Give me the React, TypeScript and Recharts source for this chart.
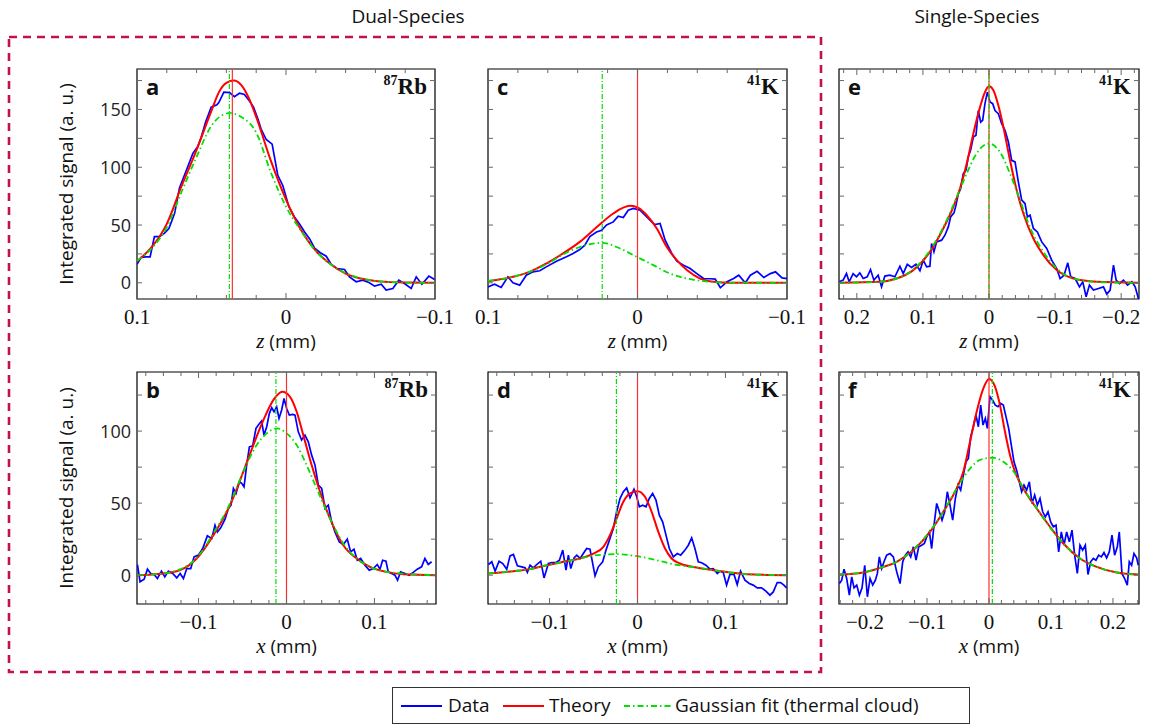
import React from 'react';
import { LineChart, Line, XAxis, YAxis, ReferenceLine, ReferenceArea } from 'recharts';

type Pt = [number, number];

// ---- panel a: 87Rb, z, dual species ----
const aData: Pt[] = [
  [0.100, 16], [0.0972, 22], [0.0939, 22.5], [0.0912, 22.5], [0.0883, 40], [0.0849, 40], [0.0815, 43], [0.0786, 47],
  [0.0748, 60], [0.0715, 82], [0.067, 97], [0.0625, 112], [0.0592, 118], [0.0569, 126], [0.054, 139], [0.0502, 152],
  [0.0464, 154], [0.0451, 156], [0.0417, 165], [0.0379, 164.6], [0.0346, 161], [0.0312, 164], [0.0279, 163], [0.0249, 158],
  [0.0218, 152], [0.0189, 142], [0.0167, 133], [0.0133, 124], [0.0093, 120], [0.0055, 93], [0.0021, 84], [-0.0019, 66],
  [-0.0057, 57], [-0.0091, 51], [-0.0125, 44], [-0.0159, 38], [-0.0192, 30], [-0.023, 26], [-0.027, 23], [-0.0304, 16],
  [-0.0341, 12.4], [-0.0393, 11.5], [-0.0426, 5.2], [-0.0471, 0.9], [-0.0516, 2.3], [-0.056, 0], [-0.0594, -2.9],
  [-0.0639, -1.2], [-0.0672, -6.3], [-0.0717, -4.9], [-0.0757, 2.3], [-0.0795, -0.6], [-0.084, -4.9], [-0.0874, 5.2],
  [-0.0912, -1.2], [-0.0959, 5.8], [-0.0997, 2.9],
];
const aTheory: Pt[] = [
  [0.1, 18.7], [0.09, 31], [0.08, 51], [0.07, 84], [0.06, 115], [0.05, 149], [0.045, 165], [0.04, 173], [0.035, 175],
  [0.03, 171], [0.025, 160], [0.02, 143.5], [0.01, 105], [0, 72], [-0.01, 46], [-0.02, 27.7], [-0.03, 16], [-0.04, 8],
  [-0.05, 3.7], [-0.06, 1.5], [-0.07, 0.6], [-0.08, 0.2], [-0.1, 0],
];
const aFit: Pt[] = [
  [0.1, 19], [0.09, 30], [0.08, 48], [0.07, 79], [0.06, 109], [0.05, 136], [0.04, 146.5], [0.038, 147], [0.03, 143.5],
  [0.02, 130], [0.01, 95], [0, 66], [-0.01, 45], [-0.02, 27.5], [-0.03, 16], [-0.04, 8.5], [-0.05, 4], [-0.06, 1.6],
  [-0.07, 0.6], [-0.08, 0.2], [-0.1, 0],
];

// ---- panel c: 41K, z, dual species ----
const cData: Pt[] = [
  [0.1001, -3.5], [0.0956, -1.2], [0.0912, -4], [0.0867, 5.2], [0.0833, 0], [0.0788, -2], [0.0744, 6.6], [0.0699, 9.5],
  [0.0654, 10.4], [0.061, 13.8], [0.0542, 18.7], [0.0475, 22.5], [0.0431, 25.4], [0.0386, 28.8], [0.0352, 32.6],
  [0.0319, 40], [0.0274, 44], [0.024, 45.5], [0.0207, 50], [0.0162, 52.7], [0.0129, 57.6], [0.0095, 56.5], [0.0062, 62.8],
  [0.0028, 64.3], [-0.0017, 62.8], [-0.0062, 57], [-0.0095, 52.7], [-0.0117, 50.4], [-0.0151, 51.3], [-0.0185, 36.9],
  [-0.0229, 25.4], [-0.0263, 18.7], [-0.0308, 15.3], [-0.0352, 12.4], [-0.0397, 8], [-0.0442, 3.7], [-0.0487, 3.5],
  [-0.052, 3.2], [-0.0554, -4.3], [-0.0598, 0.9], [-0.0643, 3.7], [-0.0677, 6.6], [-0.0721, 0], [-0.0755, 6.6],
  [-0.08, 10], [-0.0845, 4.6], [-0.0889, 8], [-0.0923, 9.5], [-0.0967, 4.3], [-0.1001, 3.7],
];
const cTheory: Pt[] = [
  [0.1, 1.4], [0.0833, 5.2], [0.0721, 9.5], [0.061, 16.7], [0.0498, 25.4], [0.0386, 35.4], [0.0274, 48], [0.0162, 60],
  [0.005, 66.6], [-0.0006, 64.8], [-0.0062, 58.5], [-0.0129, 47], [-0.0196, 31], [-0.0263, 19.6], [-0.033, 11],
  [-0.0419, 3.7], [-0.0509, 0.9], [-0.0621, 0], [-0.1, 0],
];
const cFit: Pt[] = [
  [0.1, 1.7], [0.0833, 5.2], [0.0721, 9.5], [0.061, 16], [0.0498, 24.5], [0.0386, 31], [0.0236, 34.6], [0.0117, 29.7],
  [0.0006, 22.5], [-0.0106, 15.3], [-0.0218, 8], [-0.033, 3.7], [-0.0442, 1.4], [-0.0554, 0.3], [-0.1, 0],
];

// ---- panel e: 41K, z, single species ----
const eData: Pt[] = [
  [0.2268, 0.9], [0.2207, 2.3], [0.2157, 8], [0.2116, 0.9], [0.2056, 8], [0.2005, 5.2], [0.1955, 8.6], [0.1904, 3.7],
  [0.1843, 5.2], [0.1793, 11.5], [0.1742, 2.3], [0.1677, 6.6], [0.1626, -3.5], [0.1576, 5.8], [0.15, 6.6], [0.1424, 5.2],
  [0.1348, 14.4], [0.1298, 8], [0.1237, 16], [0.1172, 13.3], [0.1106, 16], [0.1045, 10.4], [0.0995, 19.6], [0.0944, 13.8],
  [0.0894, 14.4], [0.0869, 34], [0.0833, 26.8], [0.0793, 35.4], [0.0717, 36.9], [0.0667, 41.2], [0.0616, 48.4],
  [0.0581, 57], [0.053, 60.5], [0.05, 67], [0.0465, 77], [0.0429, 81.6], [0.0389, 94.5], [0.0348, 97.4], [0.0313, 109],
  [0.0278, 115], [0.0237, 126], [0.0197, 127.7], [0.0162, 149], [0.0126, 139], [0.0096, 140.6], [0.0061, 155],
  [0.0025, 165], [-0.0015, 156.5], [-0.0056, 155], [-0.0091, 149], [-0.0141, 146.4], [-0.0192, 137.8], [-0.0242, 132],
  [-0.0293, 122], [-0.0343, 106], [-0.0394, 104.6], [-0.0444, 87.3], [-0.0495, 71.5], [-0.0545, 68.6], [-0.0581, 57],
  [-0.0621, 58.5], [-0.0672, 47], [-0.0732, 44], [-0.0798, 35.4], [-0.0874, 29.7], [-0.0949, 19.6], [-0.1025, 12.4],
  [-0.1076, 3.7], [-0.1136, 6.6], [-0.1192, 17.3], [-0.1237, 5.2], [-0.1303, 3.7], [-0.1369, -3.5], [-0.1419, 0.9],
  [-0.147, -12], [-0.152, -2], [-0.1581, -6.3], [-0.1657, -4.9], [-0.1732, -3.5], [-0.1783, -9.8], [-0.1833, -6.3],
  [-0.1884, 15.3], [-0.1924, 2.3], [-0.1975, -0.6], [-0.2035, 2.3], [-0.2096, -2], [-0.2162, 0.9], [-0.2212, -3.5],
  [-0.2263, -14],
];
const eTheory: Pt[] = [
  [0.2268, 0], [0.1652, 0.9], [0.1399, 3.7], [0.1146, 11], [0.0894, 26.8], [0.0692, 47], [0.054, 65.7], [0.0439, 81.6],
  [0.0338, 103], [0.0237, 129], [0.0136, 152], [0.0061, 165], [0, 170], [-0.0066, 166.6], [-0.0141, 153.6],
  [-0.0217, 135], [-0.0318, 106], [-0.0419, 80], [-0.052, 60], [-0.0672, 38.3], [-0.0823, 24], [-0.1025, 11],
  [-0.1278, 3.7], [-0.1631, 0.9], [-0.2263, 0],
];
const eFit: Pt[] = [
  [0.2268, 0], [0.1652, 0.9], [0.1399, 3.7], [0.1146, 11.5], [0.0894, 28], [0.0692, 48], [0.049, 74], [0.0338, 94.5],
  [0.0187, 112], [0, 120.5], [-0.0167, 113], [-0.0318, 94.5], [-0.047, 71.5], [-0.0621, 48], [-0.0823, 26.8],
  [-0.1025, 12.4], [-0.1278, 3.7], [-0.1631, 0.6], [-0.2263, 0],
];

// ---- panel b: 87Rb, x, dual species ----
const bData: Pt[] = [
  [-0.1695, 7.4], [-0.1665, -4.6], [-0.1619, -2.8], [-0.1581, 4.2], [-0.1544, 1.2], [-0.1506, 0.5], [-0.1468, -2.3],
  [-0.1422, 2.8], [-0.1384, -1.2], [-0.1343, 2.8], [-0.1294, 1.2], [-0.1248, -1.9], [-0.121, 1.2], [-0.1172, -2.3],
  [-0.1134, 4.6], [-0.1089, 4.6], [-0.1051, 12.7], [-0.1002, 13.9], [-0.0953, 18.5], [-0.09, 27.3], [-0.085, 25.5],
  [-0.0813, 34.7], [-0.0786, 30], [-0.0748, 32.9], [-0.0699, 38.9], [-0.0661, 46.3], [-0.0631, 48.6], [-0.0604, 60.2],
  [-0.0574, 56.7], [-0.0536, 64.8], [-0.0509, 63.7], [-0.0483, 61.3], [-0.0453, 76.4], [-0.0422, 89.1], [-0.0384, 89.8],
  [-0.0347, 101.9], [-0.0316, 104.6], [-0.0283, 107], [-0.0256, 97.2], [-0.0225, 103], [-0.0195, 112.3], [-0.0168, 116.2],
  [-0.0142, 113.4], [-0.0112, 116.9], [-0.0085, 108.8], [-0.0055, 114.6], [-0.0028, 122.7], [0.0002, 115.7],
  [0.0032, 111.1], [0.007, 111.6], [0.0097, 111.1], [0.0134, 99.5], [0.0172, 93.8], [0.021, 97.2], [0.0248, 92.6],
  [0.0286, 83.3], [0.0324, 76.4], [0.0362, 62.5], [0.04, 60.2], [0.0438, 46.3], [0.0475, 48.6], [0.0513, 37], [0.0551, 30],
  [0.06, 23.1], [0.0646, 21.3], [0.0691, 25], [0.0729, 16.2], [0.0767, 18], [0.0805, 10.4], [0.0843, 11.6], [0.0892, 6.9],
  [0.0941, 3.5], [0.0987, 4.6], [0.1032, 7.4], [0.1063, 4.2], [0.1093, 10.4], [0.1131, 9.7], [0.1157, 2.3], [0.1195, 1.2],
  [0.1233, 0], [0.1263, -3.5], [0.1297, 2.3], [0.1347, 1.2], [0.1396, 0], [0.1441, 1.9], [0.1487, 4.2], [0.1536, 5.8],
  [0.1574, 11.6], [0.1612, 7.4], [0.165, 9.3],
];
const bTheory: Pt[] = [
  [-0.1695, 0], [-0.14, 1.2], [-0.121, 3.5], [-0.1021, 11.6], [-0.0831, 27.8], [-0.0642, 48.6], [-0.0491, 71.8],
  [-0.0377, 90.3], [-0.0263, 107.6], [-0.015, 121.5], [-0.0047, 127.3], [0.004, 123.8], [0.0116, 113.4], [0.0191, 97.2],
  [0.0286, 76.4], [0.0381, 57.9], [0.0494, 39.4], [0.0646, 20.8], [0.0797, 11.6], [0.0949, 5.8], [0.1138, 2.3],
  [0.1328, 0.7], [0.1699, 0],
];
const bFit: Pt[] = [
  [-0.1695, 0], [-0.14, 1.2], [-0.121, 4], [-0.1021, 12], [-0.0831, 29], [-0.0642, 49.8], [-0.0491, 71.8], [-0.0339, 90.3],
  [-0.0225, 98.4], [-0.0108, 101.9], [0.0002, 98.4], [0.0116, 90.3], [0.0229, 76.4], [0.0343, 60.2], [0.0494, 39.4],
  [0.0646, 22], [0.0797, 11.6], [0.0949, 5.8], [0.1138, 2.3], [0.1699, 0],
];

// ---- panel d: 41K, x, dual species ----
const dData: Pt[] = [
  [-0.1695, 7.4], [-0.1657, 9.3], [-0.1619, 2.8], [-0.1574, 9.7], [-0.1532, 8.1], [-0.1487, 4.2], [-0.1449, 13.4],
  [-0.1411, 14.4], [-0.1366, 6.5], [-0.1316, 5.8], [-0.1278, 5.1], [-0.1252, 1.9], [-0.1222, 6.9], [-0.1184, 5.1],
  [-0.1146, 7.4], [-0.11, 9.7], [-0.1063, -1.9], [-0.1013, 8.1], [-0.0975, 8.8], [-0.0926, 8.8], [-0.0888, 10.4],
  [-0.085, 17.4], [-0.0813, 3.5], [-0.0786, 13.9], [-0.0759, 4.6], [-0.0722, 12], [-0.0691, 13.9], [-0.0653, 11.6],
  [-0.0616, 15], [-0.0578, 18.5], [-0.054, 18], [-0.0483, -0.5], [-0.0445, 5.8], [-0.0396, 9.3], [-0.0358, 17.4],
  [-0.0313, 25.5], [-0.0275, 32.4], [-0.0237, 44], [-0.0199, 53.2], [-0.0161, 57.9], [-0.0123, 60.6], [-0.0085, 53.7],
  [-0.004, 59.7], [-0.0009, 54.4], [0.0021, 47.5], [0.0059, 48.6], [0.0097, 47.5], [0.0134, 53.2], [0.0172, 56.7],
  [0.021, 52.1], [0.0248, 41.7], [0.0286, 37], [0.0324, 27.8], [0.0362, 18.5], [0.0407, 12.7], [0.0453, 15],
  [0.0491, 13.9], [0.054, 17.4], [0.0578, 20.8], [0.0616, 25.9], [0.0653, 18.5], [0.0691, 9.3], [0.0729, 8.6],
  [0.0778, 6.9], [0.0824, 4.2], [0.0862, 4.6], [0.0907, 1.2], [0.0938, 2.8], [0.0975, 1.9], [0.1013, -6.9], [0.1051, 0.5],
  [0.1097, 0.5], [0.1134, -6.5], [0.1172, 2.8], [0.1222, -3.5], [0.1271, -5.8], [0.1316, -6.9], [0.1362, -8.8],
  [0.1411, -8.8], [0.146, -11.1], [0.1506, -13.9], [0.1544, -11.6], [0.1589, -5.1], [0.1627, -5.1], [0.1665, -6.9],
  [0.1695, -8.8],
];
const dTheory: Pt[] = [
  [-0.1695, 1.2], [-0.1411, 2.8], [-0.1222, 4.2], [-0.1032, 6.9], [-0.0843, 9.3], [-0.0653, 11.6], [-0.0502, 15],
  [-0.0388, 19.7], [-0.0313, 27.8], [-0.0237, 39.4], [-0.0161, 50.9], [-0.0085, 56.7], [0.0002, 58.3], [0.0085, 54.4],
  [0.0161, 44], [0.0237, 30], [0.0313, 18.5], [0.0388, 11.6], [0.0483, 8.1], [0.0672, 5.3], [0.0862, 3.5], [0.1051, 1.9],
  [0.1241, 0.7], [0.1695, 0],
];
const dFit: Pt[] = [
  [-0.1695, 1.2], [-0.1411, 2.8], [-0.1222, 4.2], [-0.1032, 6.9], [-0.0843, 9.3], [-0.0653, 11.6], [-0.0464, 13.9],
  [-0.0241, 14.6], [-0.0009, 13.2], [0.0218, 10.4], [0.0407, 7.6], [0.0672, 5.3], [0.0862, 3.5], [0.1051, 1.9],
  [0.1241, 0.7], [0.1695, 0],
];

// ---- panel f: 41K, x, single species ----
const fData: Pt[] = [
  [-0.2414, -5.8], [-0.2376, -3.5], [-0.2339, 4.2], [-0.2296, -2.3], [-0.2253, -13.9], [-0.2215, -1.2], [-0.2177, -8.8],
  [-0.2134, -6.9], [-0.2091, -13.9], [-0.2048, -8.8], [-0.2005, 6.9], [-0.1962, -15], [-0.1919, -2.3], [-0.1876, -6.9],
  [-0.1833, -3.5], [-0.1801, 1.2], [-0.1769, 12.7], [-0.1731, 4.6], [-0.1694, 9.3], [-0.1651, 13.9], [-0.1597, 15],
  [-0.1543, 12.7], [-0.1489, 2.3], [-0.1435, -5.8], [-0.1392, 9.3], [-0.1349, 13.9], [-0.1306, 16.2], [-0.1263, 12.7],
  [-0.122, 19.7], [-0.1177, 10.4], [-0.1134, 19.7], [-0.1086, 20.8], [-0.1043, 22], [-0.1005, 26.6], [-0.0962, 30],
  [-0.0925, 18.5], [-0.0887, 34.7], [-0.0844, 49.8], [-0.0801, 44], [-0.0758, 38.2], [-0.0715, 44], [-0.0672, 57.9],
  [-0.0629, 48.6], [-0.0586, 38.2], [-0.0543, 53.2], [-0.05, 62.5], [-0.0457, 59], [-0.0414, 69.4], [-0.0371, 78.7],
  [-0.0333, 81], [-0.0296, 96], [-0.0253, 103], [-0.021, 111.1], [-0.0172, 103], [-0.0134, 118], [-0.0097, 104.2],
  [-0.0059, 108.8], [-0.0027, 101.9], [0.0016, 123.8], [0.0059, 121.5], [0.0102, 118], [0.0145, 116.9], [0.0188, 119.2],
  [0.0231, 118], [0.0274, 110], [0.0317, 101.9], [0.036, 90.3], [0.0403, 78.7], [0.0446, 72.9], [0.0489, 64.8],
  [0.0527, 57.9], [0.0565, 62.5], [0.0608, 59], [0.0651, 64.8], [0.0694, 49.8], [0.0737, 55.6], [0.078, 48.6],
  [0.0823, 53.2], [0.0866, 44], [0.0909, 40.5], [0.0952, 44], [0.0995, 37], [0.1038, 33.6], [0.1081, 34.7], [0.1124, 16.2],
  [0.1167, 30], [0.121, 20.8], [0.1253, 30], [0.1296, 23.1], [0.1339, 31.3], [0.1382, 13.9], [0.1425, 1.2], [0.1468, 20.8],
  [0.1511, 17.4], [0.1554, 20.8], [0.1597, 0.5], [0.164, 9.3], [0.1683, 11.6], [0.1726, 10.4], [0.1769, 13.9],
  [0.1812, 12.7], [0.1855, 15.7], [0.1898, 12], [0.1941, 16.2], [0.1984, 27.8], [0.2027, 13.9], [0.207, 19.7], [0.2102, 30],
  [0.2145, 1.2], [0.2188, -2.3], [0.2231, -6.9], [0.2263, 9.3], [0.2301, 6.9], [0.2339, 15], [0.2382, 12], [0.2409, 6.9],
];
const fTheory: Pt[] = [
  [-0.2414, 0.5], [-0.2027, 1.9], [-0.1758, 5.1], [-0.1489, 9.3], [-0.122, 17.4], [-0.0952, 30], [-0.0737, 44],
  [-0.0522, 60.2], [-0.0414, 71.8], [-0.0306, 92.6], [-0.0199, 113.4], [-0.0091, 129.6], [0, 136.1], [0.0097, 130.8],
  [0.0177, 118], [0.0258, 99.5], [0.0339, 83.3], [0.0419, 71.8], [0.0554, 60.2], [0.0769, 46.3], [0.0984, 33.6],
  [0.1199, 22], [0.1468, 11.6], [0.1737, 5.8], [0.2059, 1.9], [0.2409, 0.5],
];
const fFit: Pt[] = [
  [-0.2414, 0.5], [-0.2027, 1.9], [-0.1758, 5.1], [-0.1489, 9.3], [-0.122, 17.8], [-0.0952, 30.6], [-0.0737, 44],
  [-0.0522, 60.2], [-0.0306, 74], [-0.0145, 80], [0.0054, 81.5], [0.0231, 78.7], [0.0419, 70.6], [0.0554, 60.2],
  [0.0769, 46.3], [0.0984, 33.1], [0.1199, 22], [0.1468, 11.6], [0.1737, 5.8], [0.2059, 1.9], [0.2409, 0.5],
];

// ---- ticks ----
const ticksA = [-0.1, -0.08, -0.06, -0.04, -0.02, 0, 0.02, 0.04, 0.06, 0.08, 0.1];
const ticksB = [-0.16, -0.14, -0.12, -0.1, -0.08, -0.06, -0.04, -0.02, 0, 0.02, 0.04, 0.06, 0.08, 0.1, 0.12, 0.14, 0.16];
const ticksE = [
  -0.22, -0.2, -0.18, -0.16, -0.14, -0.12, -0.1, -0.08, -0.06, -0.04, -0.02, 0,
  0.02, 0.04, 0.06, 0.08, 0.1, 0.12, 0.14, 0.16, 0.18, 0.2, 0.22,
];
const ticksF = [
  -0.24, -0.22, -0.2, -0.18, -0.16, -0.14, -0.12, -0.1, -0.08, -0.06, -0.04, -0.02, 0,
  0.02, 0.04, 0.06, 0.08, 0.1, 0.12, 0.14, 0.16, 0.18, 0.2, 0.22, 0.24,
];
const yTicksTop = [0, 25, 50, 75, 100, 125, 150, 175];
const yTicksBottom = [0, 25, 50, 75, 100, 125];

const BLUE = '#0000ff';
const RED = '#ff0000';
const GREEN = '#00e000';
const DASHDOT = '6 3 1.5 3';

const isTenth = (v: number) => Math.abs(v * 10 - Math.round(v * 10)) < 1e-6;
const fmtX = (v: number) => {
  if (Math.abs(v) < 1e-9) return '0';
  const s = Math.abs(v).toFixed(1);
  return v < 0 ? '\u2212' + s : s;
};

const XTick = ({ x, y, payload, h }: any) => {
  const major = isTenth(payload.value);
  const len = major ? 6 : 4;
  return (
    <g>
      <line x1={x} y1={y} x2={x} y2={y - len} stroke="#666" />
      <line x1={x} y1={y - h} x2={x} y2={y - h + len} stroke="#666" />
      {major && (
        <text x={x} y={y + 25} textAnchor="middle" fontFamily="'Liberation Serif', serif" fontSize={21} fill="#111">
          {fmtX(payload.value)}
        </text>
      )}
    </g>
  );
};

const YTick = ({ x, y, payload, w, labels }: any) => {
  const v = payload.value;
  return (
    <g>
      <line x1={x} y1={y} x2={x + 5} y2={y} stroke="#666" />
      <line x1={x + w} y1={y} x2={x + w - 5} y2={y} stroke="#666" />
      {labels && v % 50 === 0 && (
        <text x={x - 6} y={y} dy="0.36em" textAnchor="end" fontFamily="'Open Sans', sans-serif" fontSize={18} fill="#222">
          {v}
        </text>
      )}
    </g>
  );
};

type PanelProps = {
  left: number;
  top: number;
  w: number;
  h: number;
  xDomain: [number, number];
  reversed: boolean;
  xTicks: number[];
  yDomain: [number, number];
  yTicks: number[];
  yLabels: boolean;
  axisVar: string;
  letter: string;
  mass: string;
  element: string;
  data: Pt[];
  theory: Pt[];
  fit: Pt[];
  redAt: number;
  greenAt: number;
};

const rows = (pts: Pt[]) => pts.map(([x, y]) => ({ x, y }));

const Panel = (p: PanelProps) => {
  const L = 50;
  const T = 4;
  const R = 36;
  const B = 30;
  return (
    <div style={{ position: 'absolute', left: p.left - L, top: p.top - T, width: p.w + L + R, height: p.h + T + B + 34 }}>
      <LineChart width={p.w + L + R} height={p.h + T + B} margin={{ top: T, right: R, left: 0, bottom: 0 }}>
        <XAxis
          type="number"
          dataKey="x"
          domain={p.xDomain}
          reversed={p.reversed}
          ticks={p.xTicks}
          interval={0}
          allowDataOverflow
          axisLine={false}
          tickLine={false}
          tickSize={0}
          tickMargin={0}
          height={B}
          tick={(t: any) => <XTick x={t.x} y={t.y} payload={t.payload} h={p.h} />}
        />
        <YAxis
          type="number"
          domain={p.yDomain}
          ticks={p.yTicks}
          interval={0}
          allowDataOverflow
          axisLine={false}
          tickLine={false}
          tickSize={0}
          tickMargin={0}
          width={L}
          tick={(t: any) => <YTick x={t.x} y={t.y} payload={t.payload} w={p.w} labels={p.yLabels} />}
        />
        <Line data={rows(p.data)} dataKey="y" type="linear" dot={false} stroke={BLUE} strokeWidth={1.7} isAnimationActive={false} />
        <Line data={rows(p.theory)} dataKey="y" type="monotone" dot={false} stroke={RED} strokeWidth={2} isAnimationActive={false} />
        <Line
          data={rows(p.fit)}
          dataKey="y"
          type="monotone"
          dot={false}
          stroke={GREEN}
          strokeWidth={1.8}
          strokeDasharray={DASHDOT}
          isAnimationActive={false}
        />
        <ReferenceLine x={p.redAt} stroke="#ff3030" strokeWidth={1.2} />
        <ReferenceLine x={p.greenAt} stroke={GREEN} strokeWidth={1.2} strokeDasharray="5 2 1 2" />
        <ReferenceArea
          x1={p.xDomain[0]}
          x2={p.xDomain[1]}
          y1={p.yDomain[0]}
          y2={p.yDomain[1]}
          fill="none"
          fillOpacity={0}
          stroke="#000"
          strokeWidth={1.2}
          ifOverflow="visible"
        />
      </LineChart>
      <div style={{ position: 'absolute', left: L + 9, top: T + 3, fontSize: 22, fontWeight: 700, lineHeight: '28px' }}>{p.letter}</div>
      <div
        style={{
          position: 'absolute',
          left: L + p.w - 128,
          width: 120,
          top: T + 4,
          textAlign: 'right',
          fontFamily: "'Liberation Serif', serif",
          fontWeight: 700,
          fontSize: 23,
          lineHeight: '28px',
        }}
      >
        <span style={{ fontSize: 14, position: 'relative', top: -9 }}>{p.mass}</span>
        {p.element}
      </div>
      <div
        style={{
          position: 'absolute',
          left: L,
          width: p.w,
          top: T + p.h + 31,
          textAlign: 'center',
          fontSize: 19,
          lineHeight: '22px',
        }}
      >
        <span style={{ fontFamily: "'Liberation Serif', serif", fontStyle: 'italic', fontSize: 21 }}>{p.axisVar}</span> (mm)
      </div>
    </div>
  );
};

const YTitle = ({ cy }: { cy: number }) => (
  <div
    style={{
      position: 'absolute',
      left: 66 - 140,
      top: cy - 13,
      width: 280,
      height: 26,
      lineHeight: '26px',
      textAlign: 'center',
      fontSize: 19,
      transform: 'rotate(-90deg)',
    }}
  >
    Integrated signal (a. u.)
  </div>
);

const LegendBox = () => (
  <div
    style={{
      position: 'absolute',
      left: 392,
      top: 687,
      width: 578,
      height: 37,
      border: '1px solid #333',
      boxSizing: 'border-box',
      fontSize: 19,
    }}
  >
    <svg width={576} height={35} style={{ position: 'absolute', left: 0, top: 0 }}>
      <line x1={8} x2={49} y1={18} y2={18} stroke={BLUE} strokeWidth={1.8} />
      <line x1={110} x2={151} y1={18} y2={18} stroke={RED} strokeWidth={2} />
      <line x1={231} x2={279} y1={18} y2={18} stroke={GREEN} strokeWidth={1.8} strokeDasharray={DASHDOT} />
    </svg>
    <span style={{ position: 'absolute', left: 55, top: 3, lineHeight: '28px' }}>Data</span>
    <span style={{ position: 'absolute', left: 156, top: 3, lineHeight: '28px' }}>Theory</span>
    <span style={{ position: 'absolute', left: 282, top: 3, lineHeight: '28px' }}>Gaussian fit (thermal cloud)</span>
  </div>
);

const App = () => (
  <div
    style={{
      position: 'absolute',
      left: 0,
      top: 0,
      width: 1149,
      height: 728,
      background: '#fff',
      fontFamily: "'Open Sans', sans-serif",
      color: '#111',
      overflow: 'hidden',
    }}
  >
    <div style={{ position: 'absolute', left: 308, width: 200, top: 3, textAlign: 'center', fontSize: 19, lineHeight: '26px' }}>Dual-Species</div>
    <div style={{ position: 'absolute', left: 877, width: 200, top: 3, textAlign: 'center', fontSize: 19, lineHeight: '26px' }}>Single-Species</div>
    <svg width={1149} height={728} style={{ position: 'absolute', left: 0, top: 0 }}>
      <rect x={9} y={37} width={812} height={635} fill="none" stroke="#c2124d" strokeWidth={2.6} strokeDasharray="8 6" />
    </svg>
    <YTitle cy={184} />
    <YTitle cy={488} />

    <Panel left={137} top={69} w={298} h={230} xDomain={[-0.1, 0.1]} reversed xTicks={ticksA} yDomain={[-14, 185]} yTicks={yTicksTop} yLabels
      axisVar="z" letter="a" mass="87" element="Rb" data={aData} theory={aTheory} fit={aFit} redAt={0.036} greenAt={0.038} />
    <Panel left={488} top={69} w={299} h={230} xDomain={[-0.1, 0.1]} reversed xTicks={ticksA} yDomain={[-14, 185]} yTicks={yTicksTop} yLabels={false}
      axisVar="z" letter="c" mass="41" element="K" data={cData} theory={cTheory} fit={cFit} redAt={0} greenAt={0.0236} />
    <Panel left={839} top={69} w={300} h={230} xDomain={[-0.227, 0.227]} reversed xTicks={ticksE} yDomain={[-14, 185]} yTicks={yTicksTop} yLabels={false}
      axisVar="z" letter="e" mass="41" element="K" data={eData} theory={eTheory} fit={eFit} redAt={0} greenAt={0} />
    <Panel left={137} top={372} w={299} h={232} xDomain={[-0.17, 0.17]} reversed={false} xTicks={ticksB} yDomain={[-20, 141]} yTicks={yTicksBottom} yLabels
      axisVar="x" letter="b" mass="87" element="Rb" data={bData} theory={bTheory} fit={bFit} redAt={0} greenAt={-0.012} />
    <Panel left={488} top={372} w={299} h={232} xDomain={[-0.17, 0.17]} reversed={false} xTicks={ticksB} yDomain={[-20, 141]} yTicks={yTicksBottom} yLabels={false}
      axisVar="x" letter="d" mass="41" element="K" data={dData} theory={dTheory} fit={dFit} redAt={0} greenAt={-0.024} />
    <Panel left={839} top={372} w={300} h={232} xDomain={[-0.242, 0.242]} reversed={false} xTicks={ticksF} yDomain={[-20, 141]} yTicks={yTicksBottom} yLabels={false}
      axisVar="x" letter="f" mass="41" element="K" data={fData} theory={fTheory} fit={fFit} redAt={0} greenAt={0.0054} />

    <LegendBox />
  </div>
);

export default App;
